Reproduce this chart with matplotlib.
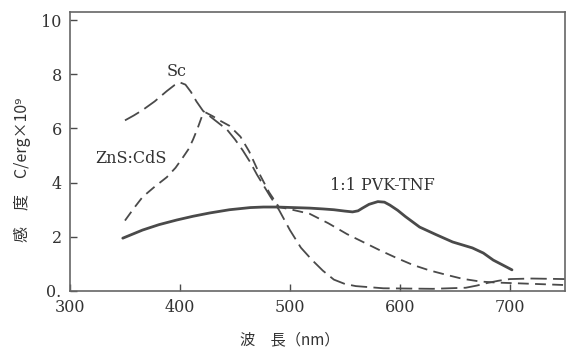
import matplotlib
matplotlib.use('Agg')
import matplotlib.pyplot as plt

# Sc (long dash)
sc_x = [350, 358, 366, 377, 388, 395, 400, 405, 410, 415, 421, 432, 443, 450, 457, 464, 470, 476, 482, 490, 500, 510, 520, 530, 540, 550, 560, 585, 630, 660, 670, 680, 690, 700, 720, 750]
sc_y = [6.3, 6.48, 6.68, 7.0, 7.38, 7.6, 7.7, 7.62, 7.35, 7.0, 6.65, 6.3, 5.95, 5.6, 5.2, 4.75, 4.3, 3.9, 3.5, 3.0, 2.25, 1.6, 1.15, 0.75, 0.42, 0.26, 0.18, 0.1, 0.08, 0.12, 0.2, 0.3, 0.38, 0.44, 0.46, 0.44]

# ZnS:CdS (dash)
zns_x = [350, 358, 366, 377, 388, 396, 403, 408, 412, 416, 420, 423, 430, 436, 445, 455, 463, 472, 481, 490, 500, 518, 535, 552, 567, 582, 597, 612, 627, 642, 657, 673, 688, 703, 750]
zns_y = [2.6, 3.05, 3.47, 3.85, 4.2, 4.55, 4.95, 5.25, 5.6, 6.0, 6.45, 6.6, 6.45, 6.3, 6.1, 5.7, 5.15, 4.35, 3.65, 3.1, 3.02, 2.85, 2.5, 2.1, 1.8, 1.5, 1.22, 0.96, 0.76, 0.6, 0.45, 0.35, 0.31, 0.29, 0.22]

# 1:1 PVK-TNF (solid)
pvk_x = [348, 357, 366, 381, 397, 412, 427, 445, 464, 476, 488, 503, 518, 530, 540, 550, 557, 562, 566, 572, 580, 586, 591, 598, 605, 618, 633, 648, 657, 666, 676, 685, 694, 702]
pvk_y = [1.95, 2.1, 2.25, 2.45, 2.62, 2.76, 2.88, 3.0, 3.08, 3.1, 3.1, 3.08, 3.06, 3.03, 3.0, 2.95, 2.92, 2.96, 3.06, 3.2, 3.3, 3.28, 3.17, 2.98, 2.75, 2.36, 2.08, 1.81, 1.7, 1.59, 1.4, 1.14, 0.95, 0.78]

xticks = [300, 400, 500, 600, 700]
yticks = [0, 2, 4, 6, 8, 10]
ytick_labels = ['0.', '2', '4', '6', '8', '10']

ink = '#4a4a4a'
serif = 'DejaVu Serif'
cjk = ['Noto Sans CJK JP', 'DejaVu Sans']

fig = plt.figure(figsize=(5.7, 3.54), dpi=100)
ax = fig.add_axes([0.1228, 0.178, 0.868, 0.788])

ax.plot(pvk_x, pvk_y, color=ink, lw=2.0, solid_capstyle='round')
ax.plot(sc_x, sc_y, color=ink, lw=1.3, dashes=(9, 3.5))
ax.plot(zns_x, zns_y, color=ink, lw=1.3, dashes=(6, 3.5))

ax.set_xlim(300, 750)
ax.set_ylim(0, 10.3)
ax.set_xticks(xticks)
ax.set_yticks(yticks)
ax.set_yticklabels(ytick_labels)
for lab in ax.get_xticklabels() + ax.get_yticklabels():
    lab.set_family(serif)
    lab.set_fontsize(11.5)
    lab.set_color('#333333')
ax.tick_params(direction='in', length=5, width=1, color=ink, pad=6)
for s in ax.spines.values():
    s.set_color('#666666')
    s.set_linewidth(1.2)

ax.text(397, 8.1, 'Sc', family=serif, fontsize=11.5, color='#333333', ha='center', va='center')
ax.text(355, 4.9, 'ZnS:CdS', family=serif, fontsize=11.5, color='#333333', ha='center', va='center')
ax.text(584, 3.9, '1:1 PVK-TNF', family=serif, fontsize=11.5, color='#333333', ha='center', va='center')

fig.text(0.508, 0.04, '波　長（nm）', family=cjk, fontsize=11, color='#333333', ha='center', va='center')
fig.text(0.04, 0.52, '感　度　C/erg×10⁹', family=cjk, fontsize=11.5, color='#333333',
         ha='center', va='center', rotation=90)

fig.savefig('out.png', dpi=100, facecolor='white')
